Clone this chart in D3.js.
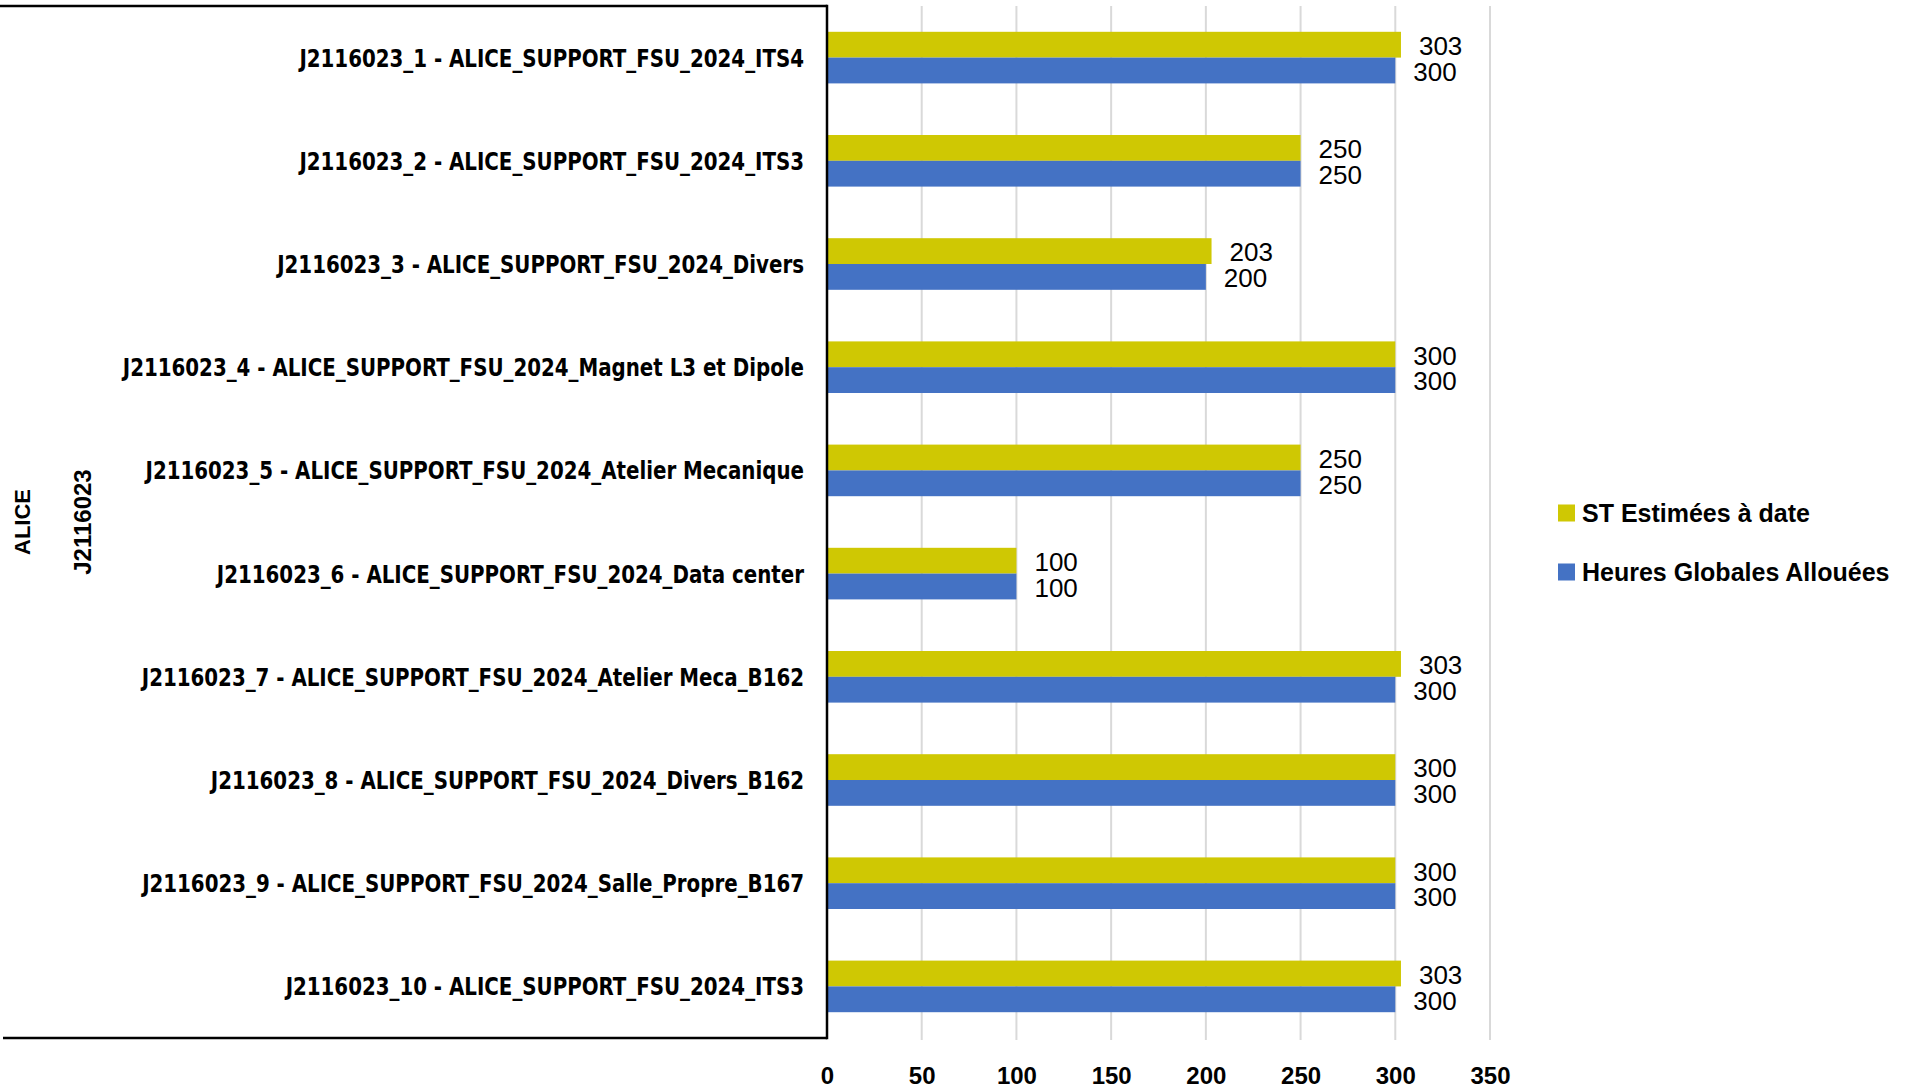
<!DOCTYPE html>
<html>
<head>
<meta charset="utf-8">
<script src="https://cdn.jsdelivr.net/npm/d3@7"></script>
<style>
  html, body { margin: 0; padding: 0; background: #fff; }
  svg { display: block; }
</style>
</head>
<body>
<svg id="chart" width="1912" height="1090"></svg>
<script>
const categories = [
  "J2116023_1 - ALICE_SUPPORT_FSU_2024_ITS4",
  "J2116023_2 - ALICE_SUPPORT_FSU_2024_ITS3",
  "J2116023_3 - ALICE_SUPPORT_FSU_2024_Divers",
  "J2116023_4 - ALICE_SUPPORT_FSU_2024_Magnet L3 et Dipole",
  "J2116023_5 - ALICE_SUPPORT_FSU_2024_Atelier Mecanique",
  "J2116023_6 - ALICE_SUPPORT_FSU_2024_Data center",
  "J2116023_7 - ALICE_SUPPORT_FSU_2024_Atelier Meca_B162",
  "J2116023_8 - ALICE_SUPPORT_FSU_2024_Divers_B162",
  "J2116023_9 - ALICE_SUPPORT_FSU_2024_Salle_Propre_B167",
  "J2116023_10 - ALICE_SUPPORT_FSU_2024_ITS3"
];
const stEstimees = [303, 250, 203, 300, 250, 100, 303, 300, 300, 303];
const heuresAllouees = [300, 250, 200, 300, 250, 100, 300, 300, 300, 300];
const seriesNames = ["ST Estimées à date", "Heures Globales Allouées"];
const seriesColors = ["#CFC803", "#4472C4"];
const xTicks = [0, 50, 100, 150, 200, 250, 300, 350];
const groupLabels = ["ALICE", "J2116023"];

const svg = d3.select("#chart");
const plot = { left: 827, right: 1490, top: 6, bottom: 1038 };

const x = d3.scaleLinear().domain([0, 350]).range([plot.left, plot.right]);
const y = d3.scaleBand().domain(categories).range([plot.top, plot.bottom]).paddingInner(0.5).paddingOuter(0.25);
const sub = d3.scaleBand().domain([0, 1]).range([0, y.bandwidth()]);

const sans = "'Liberation Sans', Arial, sans-serif";
const condensed = "'DejaVu Sans Condensed', 'Liberation Sans', sans-serif";

// gridlines
svg.append("g")
  .selectAll("line")
  .data(xTicks.filter(d => d > 0))
  .join("line")
  .attr("x1", d => x(d)).attr("x2", d => x(d))
  .attr("y1", plot.top).attr("y2", plot.bottom + 2)
  .attr("stroke", "#D9D9D9").attr("stroke-width", 2);

// bars
const series = [stEstimees, heuresAllouees];
series.forEach((vals, si) => {
  const g = svg.append("g");
  g.selectAll("rect")
    .data(categories.map((c, i) => ({ c, v: vals[i] })))
    .join("rect")
    .attr("x", x(0))
    .attr("y", d => y(d.c) + sub(si))
    .attr("width", d => x(d.v) - x(0))
    .attr("height", sub.bandwidth())
    .attr("fill", seriesColors[si]);
  g.selectAll("text")
    .data(categories.map((c, i) => ({ c, v: vals[i] })))
    .join("text")
    .attr("x", d => x(d.v) + 18)
    .attr("y", d => y(d.c) + sub(si) + sub.bandwidth() / 2 + 1)
    .attr("dy", "0.36em")
    .attr("font-family", sans)
    .attr("font-size", 26)
    .attr("fill", "#000")
    .text(d => d.v);
});

// category labels (condensed horizontally to match the reference's narrow face)
const catG = svg.append("g");
const catLabels = catG.selectAll("g")
  .data(categories)
  .join("g");
const catTexts = catLabels.append("text")
  .attr("x", 0).attr("y", 0)
  .attr("dy", "0.36em")
  .attr("text-anchor", "end")
  .attr("font-family", condensed)
  .attr("font-weight", "bold")
  .attr("font-size", 25)
  .attr("fill", "#000")
  .text(d => d);
const firstLen = catTexts.node().getComputedTextLength();
const sx = firstLen > 0 ? 505 / firstLen : 1;
catLabels.attr("transform", d => `translate(804,${y(d) + y.bandwidth() / 2}) scale(${sx},1)`);

// bracket axis lines
const axisG = svg.append("g").attr("stroke", "#000").attr("stroke-width", 2.5).attr("fill", "none");
axisG.append("line").attr("x1", 0).attr("x2", plot.left).attr("y1", plot.top).attr("y2", plot.top);
axisG.append("line").attr("x1", 3).attr("x2", plot.left).attr("y1", plot.bottom).attr("y2", plot.bottom);
axisG.append("line").attr("x1", plot.left).attr("x2", plot.left).attr("y1", plot.top - 1.25).attr("y2", plot.bottom + 1.25);

// group labels (rotated)
const midY = (plot.top + plot.bottom) / 2;
[[22, groupLabels[0], 22], [82, groupLabels[1], 24]].forEach(([cx, t, fs]) => {
  svg.append("text")
    .attr("transform", `translate(${cx},${midY}) rotate(-90)`)
    .attr("text-anchor", "middle")
    .attr("dy", "0.36em")
    .attr("font-family", sans)
    .attr("font-weight", "bold")
    .attr("font-size", fs)
    .attr("fill", "#000")
    .text(t);
});

// x axis tick labels
const xAxis = d3.axisBottom(x).tickValues(xTicks).tickSize(0).tickPadding(0);
const xg = svg.append("g").attr("transform", `translate(0,1075)`).call(xAxis);
xg.select(".domain").remove();
xg.selectAll("text")
  .attr("y", 0)
  .attr("dy", "0.36em")
  .attr("font-family", sans)
  .attr("font-weight", "bold")
  .attr("font-size", 24)
  .attr("fill", "#000");

// legend
const legend = svg.append("g");
const legendY = [513, 572];
seriesNames.forEach((name, i) => {
  legend.append("rect")
    .attr("x", 1558).attr("y", legendY[i] - 8.5)
    .attr("width", 17).attr("height", 17)
    .attr("fill", seriesColors[i]);
  legend.append("text")
    .attr("x", 1582).attr("y", legendY[i])
    .attr("dy", "0.36em")
    .attr("font-family", sans)
    .attr("font-weight", "bold")
    .attr("font-size", 25)
    .attr("fill", "#000")
    .text(name);
});
</script>
</body>
</html>
